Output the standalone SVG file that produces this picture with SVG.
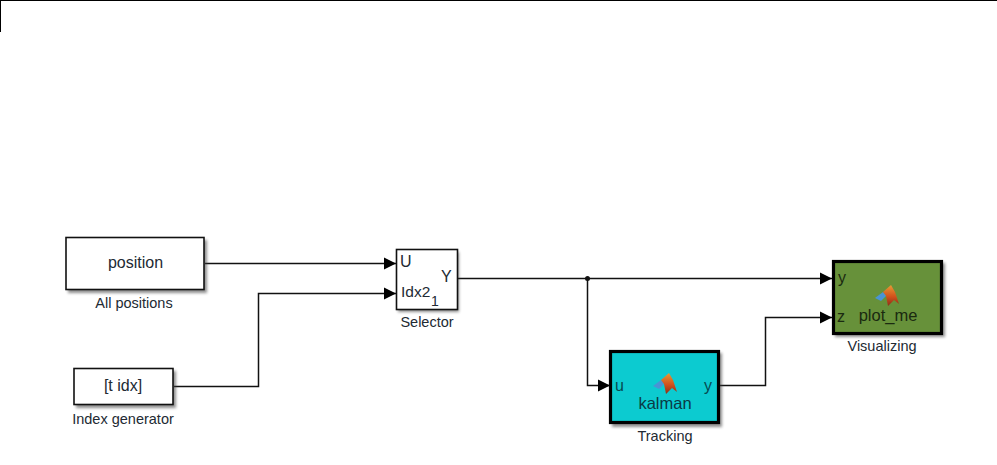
<svg xmlns="http://www.w3.org/2000/svg" width="997" height="465" viewBox="0 0 997 465">
<defs>
<marker id="arr" markerUnits="userSpaceOnUse" markerWidth="13" markerHeight="14" refX="12" refY="7" orient="auto"><path d="M0 1 L12 7 L0 13 Z" fill="#000"/></marker>
<filter id="sh" x="-15%" y="-15%" width="130%" height="130%"><feGaussianBlur stdDeviation="1.6"/></filter>
<linearGradient id="mat" x1="0" y1="0" x2="0" y2="1"><stop offset="0" stop-color="#e89a35"/><stop offset="0.55" stop-color="#d2521c"/><stop offset="1" stop-color="#8c2f18"/></linearGradient>
<g id="logo">
<path d="M0 13 L8 7 L12 10 L6 16 Z" fill="#4a94d4"/>
<path d="M8 7 L16 0 L20 7 L24 19 L19 15 L13 21 L11 11 Z" fill="url(#mat)"/>
</g>
</defs>
<style>
text{font-family:"Liberation Sans",Arial,sans-serif;font-size:14.500px;fill:#222a33}
.c{text-anchor:middle}
.in{font-size:16px}
.box{stroke:#111;stroke-width:1.6}
.thick{stroke:#000;stroke-width:3.200}
.shadow{fill:#444;opacity:.6;filter:url(#sh)}
.wire{fill:none;stroke:#111;stroke-width:1.500}
</style>
<rect width="997" height="465" fill="#fff"/>
<path d="M0 .5H997M.5 0V32" stroke="#000" fill="none"/>
<g id="connectors">
<path class="wire" marker-end="url(#arr)" d="M205 263.500H396"/>
<path class="wire" marker-end="url(#arr)" d="M174 386.500H258.500V293.500H396"/>
<path class="wire" marker-end="url(#arr)" d="M458 278.500H832"/>
<path class="wire" marker-end="url(#arr)" d="M587.500 278.500V385.500H610"/>
<path class="wire" marker-end="url(#arr)" d="M719 385.500H765.500V317.500H832"/>
<circle cx="587.500" cy="278.500" r="2.500" fill="#111"/>
</g>
<g id="all-positions">
<rect class="shadow" x="68" y="240" width="139" height="53"/>
<rect class="box" x="66" y="237.500" width="138" height="52" fill="#fff"/>
<text class="c in" x="135.500" y="268">position</text>
<text class="c" x="134" y="308">All positions</text>
</g>
<g id="index-generator">
<rect class="shadow" x="76" y="371" width="100" height="37"/>
<rect class="box" x="74" y="368.500" width="99" height="36" fill="#fff"/>
<text class="c in" x="123" y="391">[t idx]</text>
<text class="c" x="123" y="424">Index generator</text>
</g>
<g id="selector">
<rect class="shadow" x="398" y="252" width="61" height="60"/>
<rect class="box" x="396.500" y="249.500" width="61" height="60" fill="#fff"/>
<text class="in" x="400" y="267">U</text>
<text class="in" x="401" y="297" style="font-size:15.500px">Idx2</text>
<text x="431" y="306" style="font-size:14px">1</text>
<text class="in" x="441" y="282">Y</text>
<text class="c" x="427" y="327">Selector</text>
</g>
<g id="tracking">
<rect class="shadow" x="612" y="353" width="110" height="74"/>
<rect class="thick" x="610.500" y="351.500" width="108" height="71" fill="#0ccbd0"/>
<use href="#logo" x="653" y="373"/>
<text class="in" x="615" y="391" style="fill:#064a50">u</text>
<text class="in" x="704" y="391" style="fill:#064a50">y</text>
<text class="c" x="665" y="409" style="font-size:16.500px;fill:#0a3a45">kalman</text>
<text class="c" x="665" y="441">Tracking</text>
</g>
<g id="visualizing">
<rect class="shadow" x="835" y="263" width="110" height="74"/>
<rect class="thick" x="833.500" y="261.500" width="108" height="72" fill="#67913a"/>
<use href="#logo" x="875" y="285"/>
<text class="in" x="838" y="283" style="fill:#1a2a10">y</text>
<text class="in" x="837" y="322" style="fill:#1a2a10">z</text>
<text class="c" x="888" y="321" style="font-size:16.500px;fill:#1a2a10">plot_me</text>
<text class="c" x="882" y="351">Visualizing</text>
</g>
</svg>
